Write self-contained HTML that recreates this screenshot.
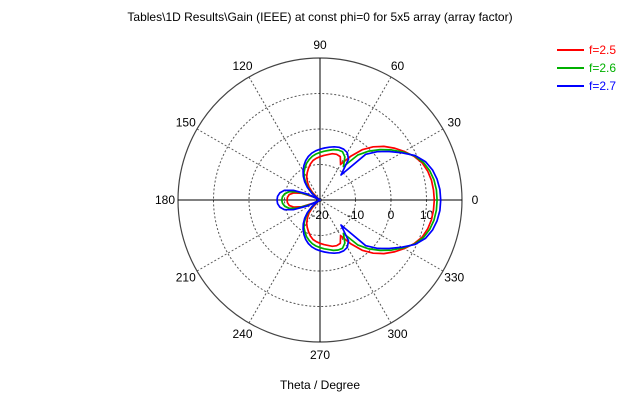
<!DOCTYPE html>
<html><head><meta charset="utf-8"><style>
body{margin:0;background:#fff;}
svg{display:block;font-family:"Liberation Sans",sans-serif;}
</style></head><body>
<svg id="chart" width="640" height="400" viewBox="0 0 640 400">
<text x="320" y="21" text-anchor="middle" font-size="12" fill="#000">Tables\1D Results\Gain (IEEE) at const phi=0 for 5x5 array (array factor)</text>
<text x="320" y="389" text-anchor="middle" font-size="12" fill="#000">Theta / Degree</text>
<g id="grid"></g>
<g id="series"></g>
<g id="legend"></g>
</svg>
<script>
const thetaDeg = [0,5,10,15,20,25,30,35,40,45,50,55,60,65,70,75,80,85,90,95,100,105,110,115,120,125,130,135,140,145,150,155,160,165,170,175,180];
const gainF25 = [12.2,12.1,11.9,11.4,10.6,9.2,7.4,5.5,3.5,1.2,-1.5,-5,-8.4,-6.5,-6.3,-6.5,-7,-7.4,-7.8,-8.2,-8.7,-9.5,-10.5,-11.5,-12.5,-13.8,-15.2,-17,-19,-20.5,-21,-18,-14.5,-12.3,-11.2,-10.8,-10.7];
const gainF26 = [13,12.9,12.6,12,11,9.4,7,4.6,2.1,-0.5,-3.5,-8.5,-6,-5,-5,-5.3,-5.8,-6.2,-6.6,-7,-7.5,-8.2,-9,-10,-11,-12.3,-13.8,-15.5,-17.5,-19.5,-21,-17,-13.3,-11,-9.9,-9.4,-9.2];
const gainF27 = [14,13.9,13.5,12.8,11.6,9.6,6.6,3.8,1.2,-1.8,-10.8,-6,-4.6,-4.2,-4.2,-4.5,-4.9,-5.3,-5.7,-6.1,-6.6,-7.3,-8.2,-9.3,-10.5,-11.8,-13.3,-15,-17,-19,-21,-16,-12,-9.6,-8.5,-8,-7.9];
const seriesNames = ["f=2.5","f=2.6","f=2.7"];
const radialTicks = [-20,-10,0,10];
const angleTicks = [0,30,60,90,120,150,180,210,240,270,300,330];
const rMin = -20, rMax = 20;

const NS="http://www.w3.org/2000/svg";
const cx=320, cy=200, R=142;
function rScale(v){ return Math.max(0,(v-rMin)/(rMax-rMin))*R; }
function pt(deg,v){ const a=deg*Math.PI/180, r=rScale(v); return [cx+r*Math.cos(a), cy-r*Math.sin(a)]; }
function mk(tag,attrs,parent){ const e=document.createElementNS(NS,tag); for(const k in attrs) e.setAttribute(k,attrs[k]); parent.appendChild(e); return e; }

const grid=document.getElementById('grid');
[-10,0,10].forEach(v=>{
  const c=mk('circle',{cx:cx,cy:cy,r:rScale(v),fill:'none',stroke:'#555','stroke-dasharray':'2,2','stroke-width':1},grid);
  
  
});
const outer=mk('circle',{cx:cx,cy:cy,r:R,fill:'none',stroke:'#444','stroke-width':1.2},grid);


angleTicks.forEach(d=>{
  const [x,y]=pt(d,rMax);
  const solid = d%90===0;
  const l=mk('line',{x1:cx,y1:cy,x2:x,y2:y,stroke:solid?'#000':'#555','stroke-width':1,'stroke-dasharray':solid?'none':'2,2'},grid);
  
  
  const a=d*Math.PI/180, lr=R+13;
  const t=mk('text',{x:cx+lr*Math.cos(a),y:cy-lr*Math.sin(a)+4,'text-anchor':'middle','font-size':12,fill:'#000'},grid);
  t.textContent=d;
  
  
});
radialTicks.forEach(v=>{
  const t=mk('text',{x:cx+rScale(v),y:cy+19,'text-anchor':'middle','font-size':12,fill:'#000'},grid);
  t.textContent=v;
  
  
});

const colors=['#ff0000','#00b000','#0000ff'];
const allSeries=[gainF25,gainF26,gainF27];
const sg=document.getElementById('series');
allSeries.forEach((vals,i)=>{
  const pts=[];
  for(let k=0;k<thetaDeg.length;k++) pts.push(pt(thetaDeg[k],vals[k]));
  for(let k=thetaDeg.length-2;k>=0;k--) pts.push(pt(360-thetaDeg[k],vals[k]));
  const p=mk('polyline',{points:pts.map(q=>q[0].toFixed(1)+','+q[1].toFixed(1)).join(' '),fill:'none',stroke:colors[i],'stroke-width':1.7,'stroke-linejoin':'round'},sg);
  
  
});
const lg=document.getElementById('legend');
seriesNames.forEach((n,i)=>{
  const y=50+i*18;
  const l=mk('line',{x1:557,y1:y,x2:584,y2:y,stroke:colors[i],'stroke-width':2},lg);
  
  
  const t=mk('text',{x:589,y:y+4,'font-size':12,fill:colors[i]},lg);
  t.textContent=n;
  
  
});
</script>
</body></html>
